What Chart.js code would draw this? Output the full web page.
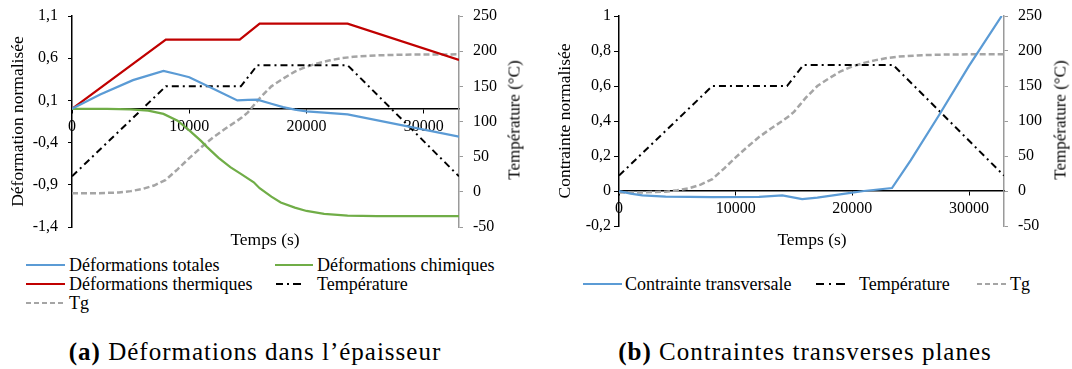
<!DOCTYPE html>
<html lang="fr"><head><meta charset="utf-8">
<script src="https://cdn.jsdelivr.net/npm/chart.js@4.4.1/dist/chart.umd.min.js"></script>
<style>
html,body{margin:0;padding:0;background:#fff;}
body{width:1072px;height:369px;position:relative;overflow:hidden;font-family:"Liberation Serif","Times New Roman",serif;color:#000;}
.cw{position:absolute;top:0;height:240px;}
.c{position:absolute;transform:translate(-50%,-50%);white-space:nowrap;font-size:17.5px;line-height:1;}
.r{transform:translate(-50%,-50%) rotate(-90deg);font-size:17px;}
.lg{position:absolute;display:flex;align-items:center;font-size:18px;white-space:nowrap;line-height:1;transform:translateY(-50%);}
.lg svg{display:block;}
.cap{position:absolute;transform:translate(-50%,-50%);white-space:nowrap;font-size:25px;letter-spacing:1px;line-height:1;}
</style></head><body>
<div class="cw" style="left:0;width:540px"><canvas id="ca"></canvas></div>
<div class="cw" style="left:540px;width:532px"><canvas id="cb"></canvas></div>

<div class="c" style="left:265px;top:240px">Temps (s)</div>
<div class="c" style="left:812px;top:240px">Temps (s)</div>
<div class="c r" style="left:514px;top:120px">Température (°C)</div>
<div class="c r" style="left:1060px;top:120px">Température (°C)</div>

<!-- legend (a) -->
<div class="lg" style="left:26px;top:265px"><svg width="43" height="8"><line x1="0" y1="4" x2="39" y2="4" stroke="#5b9bd5" stroke-width="2"/></svg>Déformations totales</div>
<div class="lg" style="left:275px;top:265px"><svg width="42" height="8"><line x1="0" y1="4" x2="38" y2="4" stroke="#70ad47" stroke-width="2"/></svg>Déformations chimiques</div>
<div class="lg" style="left:26px;top:284px"><svg width="43" height="8"><line x1="0" y1="4" x2="39" y2="4" stroke="#c00000" stroke-width="2"/></svg>Déformations thermiques</div>
<div class="lg" style="left:276px;top:284px"><svg width="41" height="8"><line x1="0" y1="4" x2="27" y2="4" stroke="#000" stroke-width="2" stroke-dasharray="7 4 2 4 8 20"/></svg>Température</div>
<div class="lg" style="left:26px;top:303px"><svg width="43" height="8"><line x1="0" y1="4" x2="39" y2="4" stroke="#a5a5a5" stroke-width="2" stroke-dasharray="5 3"/></svg>Tg</div>

<!-- legend (b) -->
<div class="lg" style="left:583px;top:284px"><svg width="42" height="8"><line x1="0" y1="4" x2="39" y2="4" stroke="#5b9bd5" stroke-width="2"/></svg>Contrainte transversale</div>
<div class="lg" style="left:816px;top:284px"><svg width="43" height="8"><line x1="0" y1="4" x2="31" y2="4" stroke="#000" stroke-width="2" stroke-dasharray="8 5 2 5 9 20"/></svg>Température</div>
<div class="lg" style="left:977px;top:284px"><svg width="33" height="8"><line x1="0" y1="4" x2="31" y2="4" stroke="#a5a5a5" stroke-width="2" stroke-dasharray="5 3"/></svg>Tg</div>

<div class="cap" style="left:255px;top:351px"><b>(a)</b> Déformations dans l’épaisseur</div>
<div class="cap" style="left:805px;top:351px"><b>(b)</b> Contraintes transverses planes</div>

<script>
// ---- data ----
const tempTime = [0, 8000, 14400, 15800, 23500, 33000];
const temperature = [22, 150, 150, 180, 180, 22];

const tgTime = [0, 2000, 4000, 5000, 6000, 7000, 8000, 9000, 10000, 11000, 12000, 13000, 14000, 14500, 15000, 15500, 16000, 17000, 18000, 19000, 20000, 21000, 22000, 23000, 24000, 26000, 28000, 33000];
const tg = [-2, -2, -1, 1, 4, 9, 17, 32, 48, 63, 77, 89, 100, 106, 113, 123, 133, 150, 161, 171, 178, 183, 187, 190, 192, 194, 195, 195.5];

const totTime = [0, 2400, 5200, 7800, 9000, 10000, 12000, 14100, 15000, 15800, 17000, 18000, 19000, 20000, 21500, 23500, 33000];
const defTotales = [0, 0.17, 0.34, 0.45, 0.41, 0.375, 0.24, 0.10, 0.105, 0.11, 0.06, 0.02, -0.01, -0.03, -0.045, -0.065, -0.33];

const chemTime = [0, 3000, 5000, 6500, 7800, 9000, 10000, 11000, 11500, 12500, 13500, 14400, 15500, 16000, 17000, 17800, 19000, 20000, 21500, 23500, 26000, 33000];
const defChimiques = [0, 0, -0.005, -0.02, -0.06, -0.14, -0.255, -0.38, -0.45, -0.58, -0.69, -0.77, -0.87, -0.94, -1.04, -1.11, -1.17, -1.21, -1.245, -1.265, -1.27, -1.27];

const thermTime = [0, 8000, 14300, 16000, 23500, 33000];
const defThermiques = [0, 0.82, 0.82, 1.01, 1.01, 0.58];

const stressTime = [0, 1000, 2000, 4000, 8000, 12000, 14000, 15700, 17000, 19700, 21000, 23400, 25000, 27400, 30000, 32800];
const contrainte = [0, -0.015, -0.025, -0.032, -0.035, -0.033, -0.025, -0.047, -0.038, -0.012, 0, 0.017, 0.175, 0.43, 0.715, 1.0];

const xTickLabels = [0, 10000, 20000, 30000];
const xMax = 33000;
const yLeftA = {min: -1.4, max: 1.1, step: 0.5};
const yLeftB = {min: -0.2, max: 1, step: 0.2};
const yTemp = {min: -50, max: 250, step: 50};

// ---- helpers ----
const FONT = '"Liberation Serif", "Times New Roman", serif';
const pts = (xs, ys) => xs.map((x, i) => ({x, y: ys[i]}));
const fmt = v => String(Math.round(v * 10) / 10).replace('.', ',');
const BLUE = '#5b9bd5', GREEN = '#70ad47', RED = '#c00000', GRAY = '#a5a5a5', AXG = '#9a9a9a';

const tempDs = () => ({label: 'Température', data: pts(tempTime, temperature), yAxisID: 'y2', borderColor: '#000', borderWidth: 2, borderDash: [7, 4, 2, 4]});
const tgDs = () => ({label: 'Tg', data: pts(tgTime, tg), yAxisID: 'y2', borderColor: GRAY, borderWidth: 2.5, borderDash: [6, 3]});

function makeChart(id, datasets, L, leftTitle, g) {
  return new Chart(document.getElementById(id), {
    type: 'line',
    data: {datasets},
    options: {
      responsive: true, maintainAspectRatio: false, animation: false,
      layout: {padding: {left: 0, right: 0, top: g.top, bottom: g.bottom}},
      plugins: {legend: {display: false}, tooltip: {enabled: false}},
      elements: {point: {radius: 0}, line: {tension: 0, fill: false}},
      scales: {
        x: {
          type: 'linear', min: 0, max: xMax, position: {y: 0},
          afterBuildTicks: s => { s.ticks = xTickLabels.map(v => ({value: v})); },
          ticks: {autoSkip: false, maxRotation: 0, color: '#000',
                  font: {family: FONT, size: 16}, padding: 4, callback: v => String(v)},
          grid: {display: true, drawOnChartArea: false, drawTicks: true, tickLength: 4, color: '#000'},
          border: {display: true, color: '#000', width: 1.5}
        },
        y: {
          type: 'linear', position: 'left', min: L.min, max: L.max,
          ticks: {stepSize: L.step, color: '#000', font: {family: FONT, size: 16}, padding: g.lpad, callback: fmt},
          grid: {display: true, drawOnChartArea: false, drawTicks: true, tickLength: g.ltick, color: '#000'},
          border: {display: true, color: '#000', width: 1.5},
          title: {display: true, text: leftTitle, color: '#000', font: {family: FONT, size: 17.5}, padding: {top: g.ltitle, bottom: 0}},
          afterFit: s => { s.width = g.left; s.paddingTop = 0; s.paddingBottom = 0; }
        },
        y2: {
          type: 'linear', position: 'right', min: yTemp.min, max: yTemp.max,
          ticks: {stepSize: yTemp.step, color: '#000', font: {family: FONT, size: 16}, padding: 10},
          grid: {display: true, drawOnChartArea: false, drawTicks: true, tickLength: 4, color: AXG},
          border: {display: true, color: AXG, width: 1.5},
          afterFit: s => { s.width = g.right; s.paddingTop = 0; s.paddingBottom = 0; }
        }
      }
    }
  });
}

makeChart('ca', [
  {label: 'Déformations totales', data: pts(totTime, defTotales), yAxisID: 'y', borderColor: BLUE, borderWidth: 2.25},
  {label: 'Déformations chimiques', data: pts(chemTime, defChimiques), yAxisID: 'y', borderColor: GREEN, borderWidth: 2.25},
  {label: 'Déformations thermiques', data: pts(thermTime, defThermiques), yAxisID: 'y', borderColor: RED, borderWidth: 2.25},
  tempDs(), tgDs()
], yLeftA, 'Déformation normalisée', {top: 16, bottom: 13, left: 72, right: 81, lpad: 10, ltick: 4, ltitle: 8});

makeChart('cb', [
  {label: 'Contrainte transversale', data: pts(stressTime, contrainte), yAxisID: 'y', borderColor: BLUE, borderWidth: 2.25},
  tempDs(), tgDs()
], yLeftB, 'Contrainte normalisée', {top: 16, bottom: 14, left: 79, right: 68, lpad: 3, ltick: 5, ltitle: 15});
</script>
</body></html>
